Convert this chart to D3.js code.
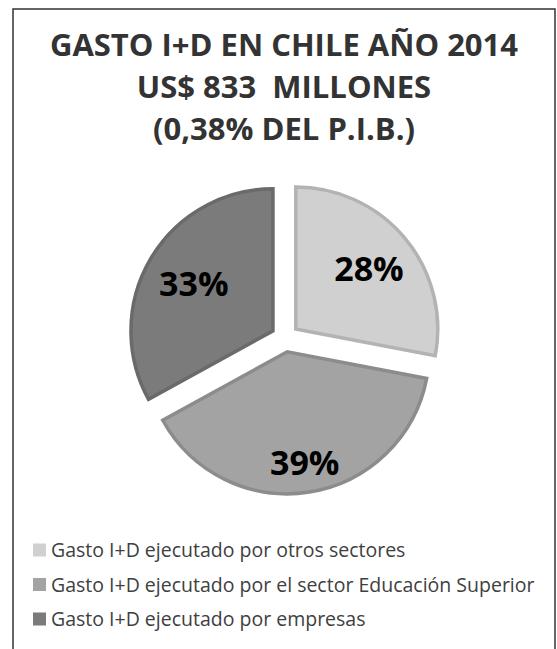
<!DOCTYPE html>
<html>
<head>
<meta charset="utf-8">
<script src="https://cdn.jsdelivr.net/npm/d3@7"></script>
<style>
  body { margin: 0; background: #fff; }
  svg { display: block; }
</style>
</head>
<body>
<div id="chart"></div>
<script>
// Chart data
const titleLines = ["GASTO I+D EN CHILE AÑO 2014", "US$ 833  MILLONES", "(0,38% DEL P.I.B.)"];
const categories = [
    "Gasto I+D ejecutado por otros sectores",
    "Gasto I+D ejecutado por el sector Educación Superior",
    "Gasto I+D ejecutado por empresas"
];
const shares = [28, 39, 33];

const width = 557;
const height = 649;

const svg = d3.select("#chart")
    .append("svg")
    .attr("width", width)
    .attr("height", height);

// Frame around the chart (open at the bottom edge of the picture)
svg.append("rect")
    .attr("x", 13)
    .attr("y", 9)
    .attr("width", 542)
    .attr("height", 660)
    .attr("fill", "none")
    .attr("stroke", "#333")
    .attr("stroke-width", 1.5);

// Title
svg.append("g")
    .selectAll("text")
    .data(titleLines)
    .join("text")
    .attr("x", 284)
    .attr("y", (d, i) => 56 + i * 42)
    .attr("text-anchor", "middle")
    .style("white-space", "pre")
    .style("font-family", "'Open Sans', sans-serif")
    .style("font-weight", "bold")
    .style("font-size", "31px")
    .style("fill", "#333")
    .text(d => d);

// Colours for the slices
const fills = ["#d0d0d0", "#a3a3a3", "#7b7b7b"];
const strokes = ["#b3b3b3", "#8c8c8c", "#6a6a6a"];

const color = d3.scaleOrdinal().domain(categories).range(fills);
const strokeColor = d3.scaleOrdinal().domain(categories).range(strokes);

const pieData = categories.map((c, i) => ({ name: c, value: shares[i] }));

const pie = d3.pie()
    .sort(null)
    .value(d => d.value);

const radius = 142;
const explode = 14;
const arc = d3.arc().innerRadius(0).outerRadius(radius);
const labelRadius = [95, 112, 92];

const pieG = svg.append("g")
    .attr("transform", "translate(285, 338)");

const slices = pieG.selectAll("g.slice")
    .data(pie(pieData))
    .join("g")
    .attr("class", "slice")
    .attr("transform", d => {
        const a = (d.startAngle + d.endAngle) / 2;
        return `translate(${Math.sin(a) * explode}, ${-Math.cos(a) * explode})`;
    });

slices.append("path")
    .attr("d", arc)
    .attr("fill", d => color(d.data.name))
    .attr("stroke", d => strokeColor(d.data.name))
    .attr("stroke-width", 3.5)
    .attr("stroke-linejoin", "miter");

slices.append("text")
    .attr("transform", (d, i) => {
        const a = (d.startAngle + d.endAngle) / 2;
        return `translate(${Math.sin(a) * labelRadius[i]}, ${-Math.cos(a) * labelRadius[i]})`;
    })
    .attr("text-anchor", "middle")
    .attr("dy", "0.36em")
    .style("font-family", "'Open Sans', sans-serif")
    .style("font-weight", "bold")
    .style("font-size", "34px")
    .style("fill", "#000")
    .text(d => d.data.value + "%");

// Legend
const legend = svg.append("g")
    .selectAll("g")
    .data(categories)
    .join("g")
    .attr("transform", (d, i) => `translate(33, ${550 + i * 34.5})`);

legend.append("rect")
    .attr("x", 0)
    .attr("y", -6.5)
    .attr("width", 13)
    .attr("height", 13)
    .attr("fill", d => color(d));

legend.append("text")
    .attr("x", 18)
    .attr("dy", "0.36em")
    .style("font-family", "'Open Sans', sans-serif")
    .style("font-size", "19.5px")
    .style("fill", "#404040")
    .text(d => d);
</script>
</body>
</html>
